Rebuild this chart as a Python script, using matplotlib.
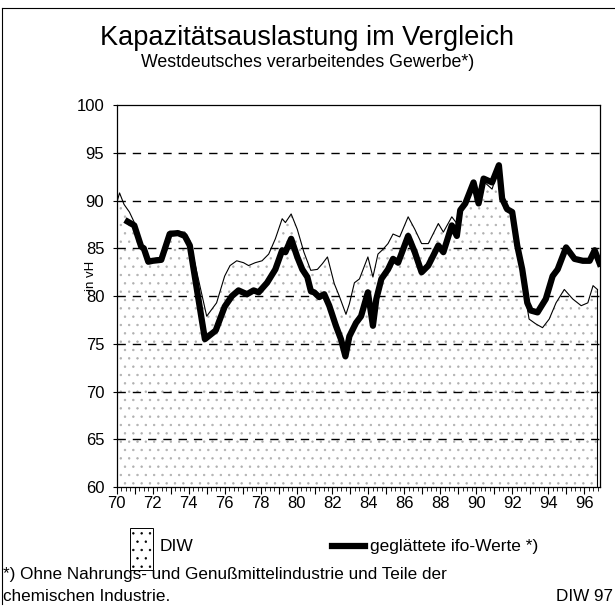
import numpy as np
import matplotlib.pyplot as plt
from matplotlib.lines import Line2D
from matplotlib.patches import Rectangle

# DIW capacity utilisation (thin line, stippled area)
diw_years = [70.0, 70.15, 70.4, 70.7, 71.0, 71.4, 71.7, 72.0, 72.5, 72.94, 73.78, 74.06,
             75.0, 75.55, 76.0, 76.3, 76.67, 77.05, 77.33, 77.7, 78.08, 78.45, 78.82,
             79.2, 79.38, 79.7, 80.04, 80.41, 80.79, 81.16, 81.44, 81.72, 82.1, 82.38,
             82.75, 82.94, 83.22, 83.5, 83.97, 84.25, 84.53, 84.81, 85.09, 85.37, 85.74,
             86.21, 86.58, 86.96, 87.33, 87.89, 88.17, 88.64, 88.92, 89.11, 89.48, 89.85,
             90.13, 90.41, 90.88, 91.26, 91.44, 91.72, 92.0, 92.28, 92.56, 92.94, 93.31,
             93.69, 94.06, 94.44, 94.9, 95.37, 95.84, 96.21, 96.5, 96.74]
diw_vals = [89.8, 90.8, 89.6, 88.8, 87.6, 85.4, 84.0, 83.9, 84.1, 86.8, 86.7, 85.8,
            77.9, 79.3, 82.1, 83.2, 83.7, 83.5, 83.2, 83.5, 83.7, 84.4, 86.0,
            88.1, 87.7, 88.6, 87.0, 84.6, 82.7, 82.8, 83.4, 84.1, 81.3, 80.0,
            78.1, 79.2, 81.4, 81.8, 84.1, 82.0, 84.4, 84.9, 85.5, 86.5, 86.2,
            88.3, 87.0, 85.5, 85.5, 87.6, 86.7, 88.3, 87.6, 89.1, 89.7, 91.7,
            89.9, 92.0, 91.2, 93.4, 90.0, 88.9, 88.6, 85.0, 82.0, 77.6, 77.1,
            76.7, 77.6, 79.3, 80.7, 79.7, 79.0, 79.3, 81.1, 80.7]

# smoothed ifo values (thick line)
ifo_years = [70.6, 70.97, 71.35, 71.5, 71.75, 72.0, 72.47, 72.94, 73.4, 73.78, 74.06,
             74.9, 75.5, 76.0, 76.4, 76.77, 77.24, 77.61, 77.89, 78.36, 78.82, 79.2,
             79.38, 79.7, 80.04, 80.32, 80.6, 80.8, 80.98, 81.26, 81.54, 81.82, 82.19,
             82.47, 82.72, 82.94, 83.31, 83.59, 83.97, 84.25, 84.44, 84.72, 85.09, 85.37,
             85.65, 86.21, 86.58, 86.96, 87.33, 87.89, 88.17, 88.64, 88.92, 89.11, 89.39,
             89.85, 90.13, 90.41, 90.88, 91.26, 91.44, 91.72, 92.0, 92.28, 92.56, 92.84,
             93.03, 93.41, 93.87, 94.25, 94.53, 95.0, 95.47, 95.93, 96.31, 96.59, 96.87]
ifo_vals = [87.8, 87.4, 85.2, 85.0, 83.6, 83.7, 83.8, 86.5, 86.6, 86.3, 85.3,
            75.5, 76.4, 78.9, 80.0, 80.6, 80.2, 80.6, 80.4, 81.4, 82.8, 84.8,
            84.6, 86.0, 84.1, 82.8, 82.0, 80.5, 80.4, 79.9, 80.2, 79.0, 76.9,
            75.5, 73.7, 75.8, 77.2, 77.9, 80.4, 76.9, 79.7, 81.8, 82.8, 83.9,
            83.5, 86.3, 84.6, 82.5, 83.2, 85.3, 84.6, 87.4, 86.3, 89.0, 89.7,
            91.9, 89.7, 92.3, 91.9, 93.7, 90.2, 89.1, 88.8, 85.3, 82.8, 79.3,
            78.5, 78.3, 79.7, 82.1, 82.8, 85.1, 83.9, 83.7, 83.7, 84.8, 83.4]

year_labels = [70, 72, 74, 76, 78, 80, 82, 84, 86, 88, 90, 92, 94, 96]
y_ticks = [60, 65, 70, 75, 80, 85, 90, 95, 100]

plt.rcParams['font.family'] = ['Liberation Sans', 'DejaVu Sans']
plt.rcParams['hatch.linewidth'] = 0.5
plt.rcParams['hatch.color'] = '#b0b0b0'

fig = plt.figure(figsize=(6.15, 6.16), dpi=100)
ax = fig.add_axes([0.19, 0.209, 0.786, 0.6205])

ax.fill_between(diw_years, 60, diw_vals, facecolor='white', edgecolor='#b0b0b0',
                hatch='..', linewidth=0, zorder=1)
for v in y_ticks[1:-1]:
    ax.axhline(v, color='black', lw=1.0, ls=(0, (6, 5)), zorder=1.5)
ax.plot(diw_years, diw_vals, color='black', lw=0.8, zorder=2)
ax.plot([diw_years[-1], diw_years[-1]], [diw_vals[-1], 60], color='black', lw=0.8, zorder=2)
ax.plot(ifo_years, ifo_vals, color='black', lw=4.5, zorder=3)

ax.set_xlim(70, 96.9)
ax.set_ylim(60, 100)
ax.set_yticks(y_ticks)
ax.set_xticks(range(70, 97))
ax.set_xticklabels([str(y) if y in year_labels else '' for y in range(70, 97)])
ax.set_xticks(np.arange(70, 96.9, 0.25), minor=True)
ax.tick_params(axis='x', which='major', direction='out', length=5, width=0.8, labelsize=12, pad=1)
ax.tick_params(axis='x', which='minor', direction='out', length=3, width=0.6)
ax.tick_params(axis='y', direction='out', length=3, width=0.8, labelsize=12, pad=6)
for s in ax.spines.values():
    s.set_linewidth(0.9)
ax.set_ylabel('in vH', fontsize=9.5)
ax.yaxis.set_label_coords(-0.042, 0.553)

fig.text(0.5, 0.938, 'Kapazitätsauslastung im Vergleich', ha='center', va='center', fontsize=19.5)
fig.text(0.5, 0.898, 'Westdeutsches verarbeitendes Gewerbe*)', ha='center', va='center', fontsize=12.8)

# legend
fig.patches.append(Rectangle((0.212, 0.075), 0.036, 0.068, transform=fig.transFigure,
                             facecolor='white', edgecolor='black', lw=0.7, hatch='..'))
fig.text(0.26, 0.113, 'DIW', ha='left', va='center', fontsize=12.5)
fig.lines.append(Line2D([0.54, 0.594], [0.113, 0.113], transform=fig.transFigure,
                        color='black', lw=4.5))
fig.text(0.602, 0.113, 'geglättete ifo-Werte *)', ha='left', va='center', fontsize=12.5)

fig.text(0.005, 0.067, '*) Ohne Nahrungs- und Genußmittelindustrie und Teile der',
         ha='left', va='center', fontsize=12.3)
fig.text(0.005, 0.031, 'chemischen Industrie.', ha='left', va='center', fontsize=12.3)
fig.text(0.997, 0.031, 'DIW 97', ha='right', va='center', fontsize=12.3)

# frame around the figure
fig.lines.append(Line2D([0.003, 0.003], [0.02, 0.987], transform=fig.transFigure, color='black', lw=0.8))
fig.lines.append(Line2D([0.003, 1.0], [0.987, 0.987], transform=fig.transFigure, color='black', lw=0.8))

fig.savefig('out.png', dpi=100)
